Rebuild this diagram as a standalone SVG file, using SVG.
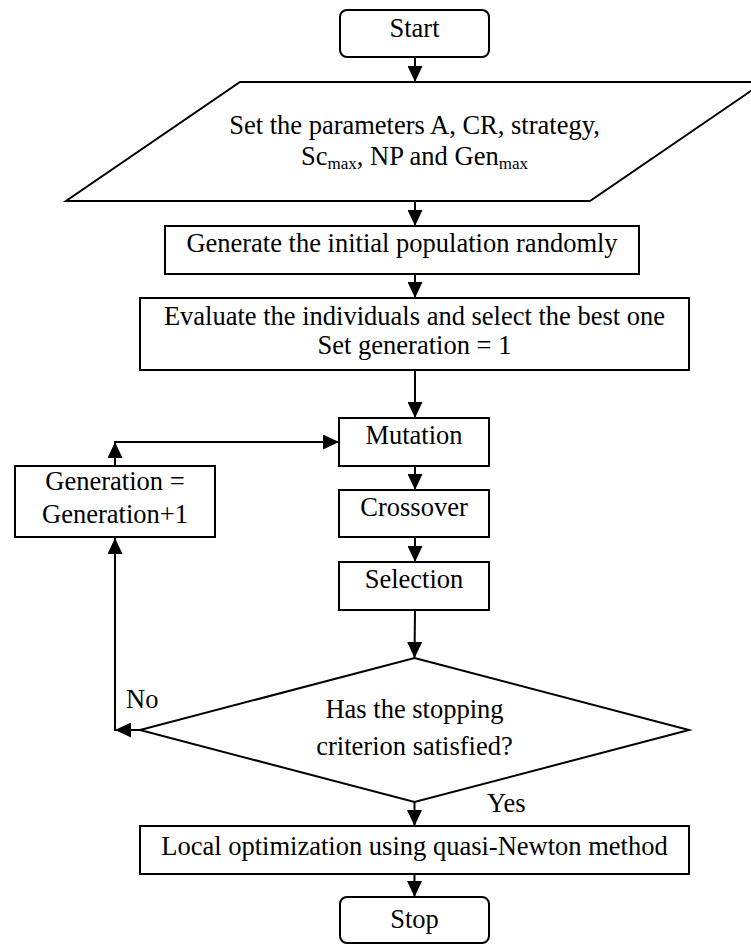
<svg xmlns="http://www.w3.org/2000/svg" width="751" height="945" viewBox="0 0 751 945">
<style>
.s{fill:#fff;stroke:#000;stroke-width:2}
.t{font-family:"Liberation Serif","Times New Roman",serif;font-size:26.5px;fill:#000;text-anchor:middle}
.l{font-family:"Liberation Serif","Times New Roman",serif;font-size:26.5px;fill:#000}
.c{fill:none;stroke:#000;stroke-width:2}
.sub{font-size:17px}
</style>
<defs>
<marker id="ah" markerUnits="userSpaceOnUse" markerWidth="16" markerHeight="15" refX="16" refY="7.5" orient="auto">
<path d="M0,0 L16,7.5 L0,15 Z" fill="#000"/>
</marker>
</defs>
<rect width="751" height="945" fill="#fff"/>
<g id="connectors">
<line class="c" x1="415" y1="57" x2="415" y2="82" marker-end="url(#ah)"/>
<line class="c" x1="415" y1="201" x2="415" y2="226" marker-end="url(#ah)"/>
<line class="c" x1="415" y1="274" x2="415" y2="298" marker-end="url(#ah)"/>
<line class="c" x1="415" y1="370" x2="415" y2="418" marker-end="url(#ah)"/>
<line class="c" x1="415" y1="466" x2="415" y2="490" marker-end="url(#ah)"/>
<line class="c" x1="415" y1="537" x2="415" y2="562" marker-end="url(#ah)"/>
<line class="c" x1="415" y1="610" x2="414.5" y2="658" marker-end="url(#ah)"/>
<line class="c" x1="140" y1="730" x2="115" y2="730" marker-end="url(#ah)"/>
<line class="c" x1="115" y1="731" x2="115" y2="538" marker-end="url(#ah)"/>
<line class="c" x1="115" y1="466" x2="115" y2="442" marker-end="url(#ah)"/>
<line class="c" x1="114" y1="442" x2="339" y2="442" marker-end="url(#ah)"/>
<line class="c" x1="414.5" y1="802" x2="414.5" y2="826" marker-end="url(#ah)"/>
<line class="c" x1="414.5" y1="874" x2="414.5" y2="897" marker-end="url(#ah)"/>
<text class="l" x="126" y="708">No</text>
<text class="l" x="487" y="812">Yes</text>
</g>
<g id="start">
<rect class="s" x="340" y="10" width="149" height="47" rx="7"/>
<text class="t" x="414.5" y="37">Start</text>
</g>
<g id="params">
<polygon class="s" points="240,82 764,82 590,201 66,201"/>
<text class="t" x="414.5" y="134">Set the parameters A, CR, strategy,</text>
<text class="t" x="414.5" y="165">Sc<tspan class="sub" dy="4">max</tspan><tspan dy="-4">, NP and Gen</tspan><tspan class="sub" dy="4">max</tspan></text>
</g>
<g id="generate">
<rect class="s" x="165" y="226" width="474" height="48"/>
<text class="t" x="402" y="252">Generate the initial population randomly</text>
</g>
<g id="evaluate">
<rect class="s" x="140" y="298" width="549" height="72"/>
<text class="t" x="414.5" y="325">Evaluate the individuals and select the best one</text>
<text class="t" x="414.5" y="354">Set generation = 1</text>
</g>
<g id="mutation">
<rect class="s" x="339" y="418" width="150" height="48"/>
<text class="t" x="414" y="444">Mutation</text>
</g>
<g id="crossover">
<rect class="s" x="339" y="490" width="150" height="47"/>
<text class="t" x="414" y="516">Crossover</text>
</g>
<g id="selection">
<rect class="s" x="339" y="562" width="150" height="48"/>
<text class="t" x="414" y="588">Selection</text>
</g>
<g id="generation">
<rect class="s" x="15" y="466" width="200" height="71"/>
<text class="t" x="115" y="490">Generation =</text>
<text class="t" x="115" y="523">Generation+1</text>
</g>
<g id="decision">
<polygon class="s" points="414.5,658 689,730 414.5,802 140,730"/>
<text class="t" x="414.5" y="718">Has the stopping</text>
<text class="t" x="414.5" y="755">criterion satisfied?</text>
</g>
<g id="local">
<rect class="s" x="140" y="826" width="549" height="48"/>
<text class="t" x="414.5" y="855">Local optimization using quasi-Newton method</text>
</g>
<g id="stop">
<rect class="s" x="340" y="897" width="149" height="46" rx="7"/>
<text class="t" x="414.5" y="928">Stop</text>
</g>
</svg>
